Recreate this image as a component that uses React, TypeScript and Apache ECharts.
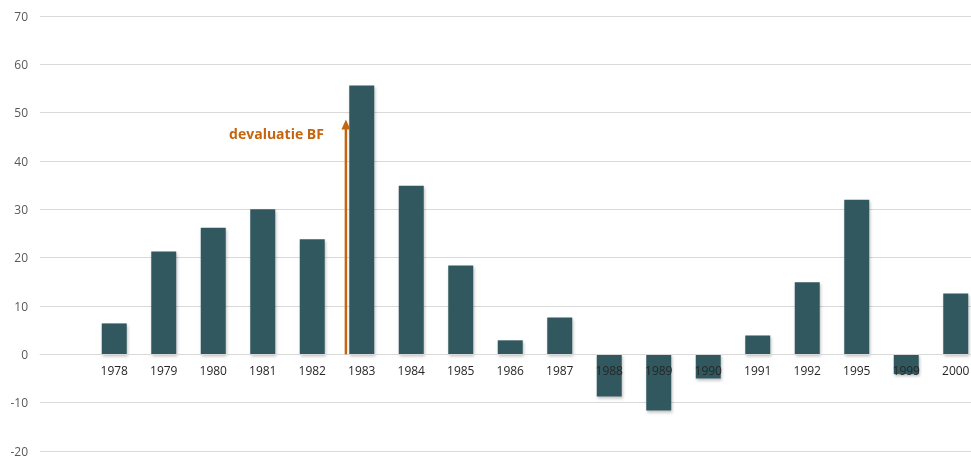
import React, { useEffect, useRef } from "react";
import * as echarts from "echarts";

const categories = ["", "1978", "1979", "1980", "1981", "1982", "1983", "1984", "1985", "1986", "1987", "1988", "1989", "1990", "1991", "1992", "1995", "1999", "2000"];
const values: (number | null)[] = [null, 6.4, 21.3, 26.2, 30.0, 23.8, 55.6, 34.9, 18.4, 2.9, 7.6, -8.7, -11.6, -5.0, 3.9, 14.9, 32.0, -4.1, 12.6];
const yTicks = { min: -20, max: 70, interval: 10 };
const annotationText = "devaluatie BF";
const arrowFrom = { cat: 5, frac: 0.68, value: 0 };
const arrowTo = { value: 48.6 };

export default function App() {
  const ref = useRef<HTMLDivElement>(null);
  useEffect(() => {
    if (!ref.current) return;
    const chart = echarts.init(ref.current, null, { renderer: "svg" });
    const font = "'Open Sans', 'Liberation Sans', sans-serif";
    chart.setOption({
      animation: false,
      grid: { left: 40, right: -9.5, top: 16, bottom: 6, containLabel: false, outerBoundsMode: "none" },
      xAxis: {
        type: "category",
        data: categories,
        z: 10,
        position: "bottom",
        axisLine: { onZero: false, lineStyle: { color: "#d9d9d9", width: 1 } },
        axisTick: { show: false },
        axisLabel: { color: "#262626", fontSize: 12, fontFamily: font, margin: 10, interval: 0 },
      },
      yAxis: {
        type: "value",
        min: yTicks.min,
        max: yTicks.max,
        interval: yTicks.interval,
        axisLine: { show: false },
        axisTick: { show: false },
        splitLine: { lineStyle: { color: "#d9d9d9", width: 1 } },
        axisLabel: { color: "#595959", fontSize: 12, lineHeight: 11, fontFamily: font, margin: 12 },
      },
      series: [
        {
          type: "bar",
          data: values,
          barWidth: 25,
          itemStyle: {
            color: "#33585e",
            shadowColor: "rgba(0,0,0,0.25)",
            shadowBlur: 3,
            shadowOffsetX: 1,
            shadowOffsetY: 2,
          },
        },
      ],
    });
    const zeroY = (chart.convertToPixel({ gridIndex: 0 }, [0, 0]) as number[])[1];
    const bottomY = (chart.convertToPixel({ gridIndex: 0 }, [0, yTicks.min]) as number[])[1];
    const p0 = chart.convertToPixel({ gridIndex: 0 }, [arrowFrom.cat, arrowFrom.value]) as number[];
    const p1 = chart.convertToPixel({ gridIndex: 0 }, [arrowFrom.cat + 1, arrowTo.value]) as number[];
    const ax = p0[0] + (p1[0] - p0[0]) * arrowFrom.frac;
    const y0 = p0[1];
    const y1 = p1[1];
    const orange = "#c5650f";
    chart.setOption({
      xAxis: { offset: -(bottomY - zeroY) },
      graphic: [
        { type: "line", shape: { x1: ax, y1: y0, x2: ax, y2: y1 + 8 }, style: { stroke: orange, lineWidth: 2.5 }, z: 20 },
        {
          type: "polygon",
          shape: { points: [[ax, y1], [ax - 4.5, y1 + 10], [ax + 4.5, y1 + 10]] },
          style: { fill: orange },
          z: 20,
        },
        {
          type: "text",
          x: ax - 22,
          y: y1 + 14,
          style: {
            text: annotationText,
            fill: orange,
            font: "bold 14px 'Open Sans', 'Liberation Sans', sans-serif",
            align: "right",
            verticalAlign: "middle",
          },
          z: 20,
        },
      ],
    });
    return () => chart.dispose();
  }, []);
  return <div ref={ref} style={{ position: "fixed", left: 0, top: 0, width: 971, height: 457 }} />;
}
